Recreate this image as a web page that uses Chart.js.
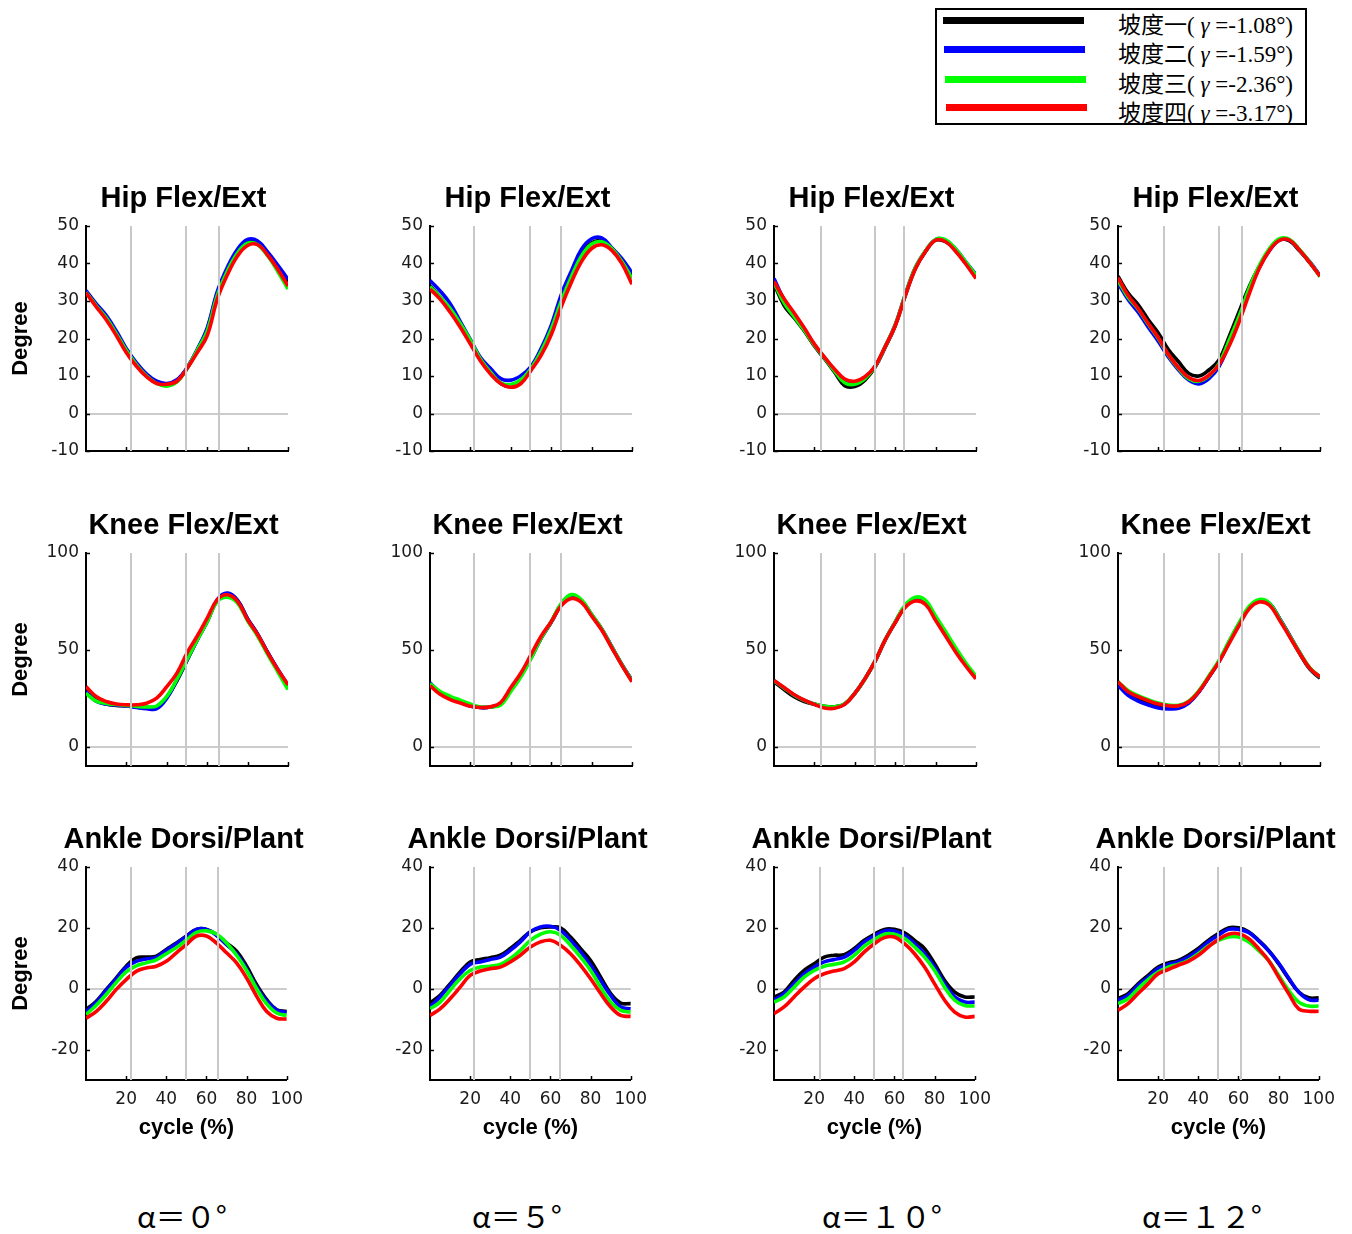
<!DOCTYPE html>
<html>
<head>
<meta charset="utf-8">
<title>Joint angles over the gait cycle</title>
<script src="https://cdn.jsdelivr.net/npm/chart.js@4.4.1/dist/chart.umd.min.js"></script>
<style>
  html, body { margin: 0; padding: 0; background: #fff; }
  body { position: relative; width: 1352px; height: 1234px; overflow: hidden; }
  canvas { position: absolute; }
  .ptitle {
    position: absolute; width: 300px; text-align: center;
    font: bold 29px "Liberation Sans", Arial, sans-serif; line-height: 29px; color: #000;
    white-space: nowrap;
  }
  .alpha {
    position: absolute; font: 30px "Noto Sans CJK JP", "Noto Sans CJK SC", sans-serif;
    line-height: 30px; color: #000; white-space: nowrap;
  }
  #legend {
    position: absolute; left: 935px; top: 8px; width: 368px; height: 113px;
    border: 2px solid #000; background: #fff; overflow: hidden;
  }
  .lg-line { position: absolute; height: 7px; }
  .lg-text {
    position: absolute; left: 181px;
    font: 23px "Liberation Serif", "Times New Roman", "Noto Sans CJK SC", serif;
    line-height: 23px; color: #000; white-space: nowrap;
  }
  .lg-text i { font-style: italic; }
</style>
</head>
<body>
<div id="legend"></div>
<script>
// ---- gait cycle samples (% of stride) ----
const cyclePct = [0, 5, 10, 15, 20, 25, 30, 35, 40, 45, 50, 55, 60, 65, 70, 75, 80, 85, 90, 95, 100];

// ---- series (slopes) ----
const slopeNames = ['坡度一', '坡度二', '坡度三', '坡度四'];
const slopeGamma = ['-1.08', '-1.59', '-2.36', '-3.17'];
const slopeColors = ['#000000', '#0000ff', '#00ff00', '#ff0000'];

// ---- panel columns (incline angle) and rows (joint) ----
const inclineLabels = ['α＝０°', 'α＝５°', 'α＝１０°', 'α＝１２°'];
const jointTitles = ['Hip Flex/Ext', 'Knee Flex/Ext', 'Ankle Dorsi/Plant'];

// gait-event markers (% of stride) for each incline column
const phaseLinesPct = [
  [22.2, 49.7, 65.9],
  [22.0, 49.7, 64.8],
  [23.1, 49.9, 64.2],
  [22.9, 49.8, 61.5]
];
const xTickValues = [20, 40, 60, 80, 100];

// ---- hip flexion/extension (deg): [坡度一, 坡度二, 坡度三, 坡度四] ----
const hipAlpha0 = [
  [32.5, 29.0, 25.8, 21.5, 17.0, 13.2, 10.3, 8.3, 7.6, 8.6, 12.0, 16.8, 22.5, 32.0, 38.5, 43.2, 46.0, 45.6, 42.6, 39.0, 35.2],
  [32.8, 29.3, 26.2, 22.0, 17.3, 13.5, 10.5, 8.6, 8.0, 9.0, 12.2, 17.0, 22.8, 32.5, 39.0, 43.8, 46.4, 46.0, 43.0, 39.5, 35.8],
  [32.3, 28.8, 25.5, 21.3, 16.8, 13.0, 10.0, 8.0, 7.3, 8.4, 12.0, 16.8, 22.0, 31.5, 38.0, 42.8, 45.4, 45.0, 42.0, 37.8, 33.2],
  [32.2, 28.5, 25.0, 20.8, 16.2, 12.6, 9.8, 8.0, 7.8, 8.6, 12.0, 16.2, 20.8, 30.5, 37.0, 42.0, 44.8, 45.0, 42.2, 38.4, 34.0]
];
const hipAlpha5 = [
  [34.0, 31.0, 27.5, 23.5, 19.0, 14.5, 11.0, 8.0, 7.2, 8.5, 12.0, 16.5, 22.5, 30.5, 37.0, 42.5, 45.5, 46.0, 44.0, 41.0, 36.5],
  [35.5, 32.7, 29.3, 24.5, 19.7, 14.9, 12.0, 9.3, 8.9, 10.1, 12.5, 17.3, 23.5, 31.7, 38.0, 43.8, 46.6, 46.8, 44.2, 41.3, 37.5],
  [33.8, 31.0, 28.0, 24.0, 19.5, 14.5, 11.0, 8.2, 7.7, 9.0, 12.0, 16.5, 22.5, 30.0, 36.5, 42.0, 45.2, 45.8, 44.0, 40.5, 36.0],
  [33.2, 30.5, 27.0, 23.0, 18.5, 14.0, 10.5, 8.0, 7.0, 8.0, 11.5, 15.5, 21.0, 28.5, 35.0, 40.5, 44.0, 45.0, 43.5, 40.0, 34.5]
];
const hipAlpha10 = [
  [34.6, 28.8, 25.5, 22.0, 18.0, 14.6, 11.0, 7.4, 7.2, 8.9, 12.3, 17.6, 23.4, 31.5, 38.7, 43.2, 46.2, 45.8, 43.4, 40.0, 36.5],
  [36.0, 30.3, 26.4, 22.6, 18.3, 14.9, 11.5, 8.9, 8.4, 9.6, 12.5, 17.8, 23.6, 31.7, 38.9, 43.3, 46.4, 46.2, 43.8, 40.4, 37.0],
  [35.0, 29.5, 25.8, 22.2, 18.2, 14.8, 11.3, 8.2, 7.8, 9.3, 12.5, 17.8, 23.6, 31.7, 38.9, 43.4, 46.4, 46.3, 43.8, 40.4, 36.8],
  [35.2, 30.6, 26.8, 22.8, 18.5, 15.0, 11.8, 9.2, 8.6, 9.8, 12.6, 17.8, 23.4, 31.4, 38.6, 43.2, 46.2, 45.8, 43.2, 39.8, 36.0]
];
const hipAlpha12 = [
  [36.6, 32.1, 29.0, 25.0, 21.4, 17.0, 13.8, 10.7, 10.0, 11.6, 14.3, 20.5, 27.2, 33.9, 39.3, 43.8, 46.4, 46.0, 43.3, 40.2, 36.6],
  [34.8, 30.4, 27.0, 23.0, 19.2, 15.0, 11.6, 8.9, 7.9, 9.3, 12.5, 18.5, 25.0, 32.5, 39.0, 43.5, 46.2, 46.2, 43.5, 40.4, 36.8],
  [35.5, 31.0, 27.8, 23.8, 20.0, 15.5, 12.0, 9.3, 8.6, 10.0, 13.3, 19.5, 26.0, 33.5, 39.5, 44.0, 46.6, 46.4, 43.6, 40.3, 36.5],
  [36.2, 31.5, 28.0, 24.0, 20.2, 15.7, 12.2, 9.6, 8.8, 10.2, 13.0, 18.0, 24.5, 32.0, 38.8, 43.5, 46.2, 46.2, 43.5, 40.2, 36.6]
];

// ---- knee flexion/extension (deg) ----
const kneeAlpha0 = [
  [28.4, 24.0, 22.0, 21.3, 21.0, 20.6, 20.3, 20.6, 25.5, 34.0, 44.5, 55.0, 64.7, 75.5, 79.0, 75.5, 66.0, 58.0, 48.5, 39.5, 31.5],
  [28.5, 23.5, 22.0, 21.5, 21.0, 20.2, 19.6, 19.6, 25.0, 34.5, 44.8, 55.0, 64.7, 75.9, 79.3, 75.5, 66.0, 58.0, 48.5, 39.8, 31.8],
  [27.6, 23.5, 22.3, 21.8, 21.3, 20.8, 20.5, 21.0, 26.0, 34.8, 45.0, 55.0, 64.5, 75.0, 77.2, 74.2, 65.0, 57.0, 47.5, 38.5, 29.5],
  [31.0, 25.9, 23.3, 22.0, 21.6, 21.6, 22.4, 25.0, 31.0, 38.0, 48.3, 57.0, 66.4, 75.9, 78.4, 75.0, 65.5, 57.8, 48.3, 39.7, 31.9]
];
const kneeAlpha5 = [
  [32.0, 27.5, 24.8, 23.0, 21.0, 20.2, 20.5, 22.0, 29.4, 36.7, 45.9, 56.0, 64.2, 73.4, 78.0, 75.2, 67.9, 60.6, 51.4, 42.2, 34.0],
  [33.0, 27.8, 24.9, 23.0, 21.0, 20.2, 20.5, 22.0, 29.2, 36.5, 45.8, 56.0, 64.4, 73.6, 78.2, 75.5, 68.2, 60.8, 51.6, 42.4, 34.2],
  [32.5, 28.5, 26.0, 24.0, 22.0, 20.5, 20.5, 21.5, 28.5, 36.0, 45.5, 56.0, 64.5, 74.0, 78.5, 75.8, 68.3, 60.8, 51.5, 42.3, 34.0],
  [31.5, 27.0, 24.3, 22.5, 20.8, 20.2, 20.6, 22.8, 30.5, 38.0, 47.5, 57.0, 64.5, 72.8, 76.5, 74.5, 67.5, 60.2, 51.0, 42.0, 33.5]
];
const kneeAlpha10 = [
  [33.5, 29.5, 25.8, 23.3, 21.8, 20.8, 20.6, 22.0, 27.5, 35.0, 44.0, 55.0, 64.2, 72.8, 76.2, 74.3, 66.0, 57.8, 49.5, 42.2, 35.8],
  [34.0, 30.3, 26.6, 23.9, 22.0, 20.5, 20.2, 22.0, 27.5, 34.9, 44.0, 55.0, 64.2, 72.5, 76.1, 74.3, 66.0, 57.8, 49.5, 42.2, 35.8],
  [34.0, 30.3, 26.6, 23.9, 22.0, 20.8, 20.6, 22.2, 27.5, 34.9, 44.0, 55.0, 64.4, 73.2, 77.2, 75.5, 67.5, 59.3, 51.0, 43.2, 36.3],
  [34.2, 30.5, 26.8, 24.0, 21.8, 20.0, 19.8, 21.8, 27.5, 35.0, 44.0, 55.0, 64.0, 72.0, 75.2, 73.4, 65.2, 57.0, 48.8, 41.5, 35.0]
];
const kneeAlpha12 = [
  [32.6, 27.3, 24.5, 22.5, 21.0, 20.3, 20.5, 22.8, 28.4, 36.0, 44.0, 54.0, 63.5, 72.0, 75.5, 73.8, 66.0, 57.0, 48.0, 40.0, 35.3],
  [31.8, 26.5, 23.5, 21.5, 20.0, 19.5, 19.8, 22.5, 28.2, 36.0, 44.0, 54.0, 63.5, 72.0, 75.6, 74.0, 66.2, 57.5, 48.5, 40.4, 35.8],
  [33.5, 29.0, 26.3, 24.2, 22.5, 21.5, 21.3, 23.5, 28.8, 36.5, 44.5, 54.5, 64.0, 72.5, 76.0, 74.0, 66.0, 57.2, 48.5, 40.6, 36.0],
  [33.5, 28.4, 25.8, 23.7, 22.0, 21.1, 21.1, 23.2, 28.4, 36.0, 43.8, 53.3, 62.7, 71.3, 74.7, 73.0, 65.3, 56.7, 48.1, 40.4, 36.0]
];

// ---- ankle dorsi/plantar flexion (deg) ----
const ankleAlpha0 = [
  [-6.9, -4.2, -0.3, 3.5, 7.4, 10.1, 10.4, 10.7, 12.9, 15.0, 17.3, 19.5, 19.5, 17.8, 15.0, 12.3, 7.4, 1.3, -3.6, -6.9, -7.5],
  [-7.5, -4.5, -0.6, 3.2, 7.0, 9.0, 9.8, 10.3, 12.6, 14.8, 17.2, 19.5, 19.5, 17.5, 14.5, 11.5, 6.5, 0.5, -4.0, -7.0, -7.8],
  [-8.5, -5.5, -2.0, 2.0, 5.5, 7.5, 8.5, 9.5, 11.5, 13.5, 16.0, 18.5, 19.0, 18.0, 15.0, 11.0, 6.0, 0.0, -5.0, -8.0, -8.8],
  [-9.7, -7.5, -4.2, -0.3, 3.0, 5.7, 6.8, 7.4, 9.0, 11.8, 14.5, 17.3, 17.3, 15.0, 11.8, 8.5, 3.5, -2.5, -7.5, -9.7, -10.0]
];
const ankleAlpha5 = [
  [-4.7, -2.2, 1.6, 5.5, 8.8, 9.6, 10.2, 11.0, 13.2, 15.9, 18.7, 20.0, 20.3, 20.0, 17.0, 13.2, 9.3, 3.8, -1.6, -4.7, -4.9],
  [-6.0, -2.7, 1.1, 4.9, 8.0, 8.8, 9.6, 10.4, 12.6, 15.4, 18.7, 20.3, 20.5, 19.2, 15.9, 12.1, 7.7, 2.7, -2.2, -6.0, -6.6],
  [-6.6, -4.4, -0.5, 3.3, 6.0, 7.1, 7.4, 8.0, 9.9, 12.6, 15.9, 17.9, 18.7, 17.6, 14.3, 10.4, 6.0, 0.5, -4.4, -7.1, -7.7],
  [-8.8, -6.6, -3.3, 0.5, 4.4, 5.8, 6.6, 7.1, 8.8, 11.0, 13.7, 15.4, 15.9, 14.3, 11.5, 7.7, 3.3, -1.6, -6.0, -8.8, -9.1]
];
const ankleAlpha10 = [
  [-2.7, -1.1, 2.7, 6.0, 8.2, 10.4, 11.0, 11.2, 13.2, 15.9, 17.9, 19.5, 19.5, 18.4, 15.9, 13.2, 8.2, 2.7, -1.1, -2.7, -2.7],
  [-3.8, -1.6, 1.6, 4.9, 7.1, 8.8, 9.6, 10.4, 12.6, 15.4, 17.3, 19.0, 19.0, 17.6, 14.8, 11.5, 7.1, 1.6, -2.7, -4.4, -4.4],
  [-4.4, -2.7, 0.5, 3.8, 6.0, 7.4, 8.0, 8.8, 11.0, 14.0, 16.2, 17.9, 17.9, 16.5, 13.7, 10.4, 6.0, 0.5, -3.8, -5.5, -5.7],
  [-8.2, -6.0, -2.7, 0.5, 3.3, 4.9, 5.8, 6.6, 8.8, 12.1, 14.8, 16.8, 17.0, 14.8, 11.5, 7.1, 1.6, -3.8, -7.7, -9.3, -9.1]
];
const ankleAlpha12 = [
  [-3.3, -1.6, 1.6, 4.4, 7.1, 8.5, 9.3, 11.0, 13.2, 15.9, 18.1, 20.0, 20.0, 18.7, 15.9, 12.6, 8.2, 3.3, -1.1, -3.0, -3.0],
  [-3.8, -2.2, 1.1, 3.8, 6.6, 8.0, 8.8, 10.4, 12.6, 15.4, 17.6, 19.5, 19.5, 18.5, 15.8, 12.5, 8.4, 3.5, -1.1, -3.6, -3.8],
  [-4.9, -3.3, 0.0, 3.0, 5.5, 7.1, 8.0, 9.3, 11.5, 14.0, 15.9, 17.0, 17.0, 15.4, 12.6, 9.3, 4.4, -0.5, -4.4, -5.7, -5.7],
  [-7.1, -4.9, -1.6, 1.6, 4.9, 6.3, 7.7, 9.0, 11.0, 13.7, 16.2, 17.9, 18.1, 16.5, 13.2, 9.3, 3.8, -1.6, -6.6, -7.4, -7.4]
];

const panelData = [
  [hipAlpha0, hipAlpha5, hipAlpha10, hipAlpha12],
  [kneeAlpha0, kneeAlpha5, kneeAlpha10, kneeAlpha12],
  [ankleAlpha0, ankleAlpha5, ankleAlpha10, ankleAlpha12]
];

// ---- layout ----
const plotLeft = [86, 430, 774, 1118];
const plotTop = [226, 553, 867];
const plotBottom = [451, 766, 1080];
const PLOT_W = 202;
const Y_W = 80, PAD_T = 20, PAD_R = 24, X_H = 61;

// y-axis setup per joint row
const yAxisSetup = [
  { min: -10, max: 50, step: 10 },
  { min: -10, max: 100, step: 50 },
  { min: -30, max: 40, step: 20 }
];

const TICK_FONT = { family: '"DejaVu Sans", Verdana, sans-serif', size: 17 };
const TICK_COLOR = '#1a1a1a';

// gray event lines plus short inward tick marks on both axes
const panelDecor = {
  id: 'panelDecor',
  afterDatasetsDraw(chart, args, opts) {
    const { ctx, chartArea, scales: { x, y } } = chart;
    ctx.save();
    ctx.strokeStyle = '#c8c8c8';
    ctx.lineWidth = 2;
    for (const p of opts.phases) {
      const px = Math.round(x.getPixelForValue(p));
      ctx.beginPath();
      ctx.moveTo(px, chartArea.top);
      ctx.lineTo(px, chartArea.bottom);
      ctx.stroke();
    }
    ctx.strokeStyle = '#000';
    ctx.lineWidth = 1.5;
    for (const t of xTickValues) {
      const px = Math.round(x.getPixelForValue(t)) + 0.5;
      ctx.beginPath();
      ctx.moveTo(px, chartArea.bottom);
      ctx.lineTo(px, chartArea.bottom - 4);
      ctx.stroke();
    }
    for (const t of y.ticks) {
      const py = Math.round(y.getPixelForValue(t.value)) + 0.5;
      ctx.beginPath();
      ctx.moveTo(chartArea.left, py);
      ctx.lineTo(chartArea.left + 4, py);
      ctx.stroke();
    }
    ctx.restore();
  }
};

function addText(cls, text, left, top) {
  const d = document.createElement('div');
  d.className = cls;
  d.textContent = text;
  d.style.left = left + 'px';
  d.style.top = top + 'px';
  document.body.appendChild(d);
  return d;
}

for (let r = 0; r < 3; r++) {
  for (let c = 0; c < 4; c++) {
    const cv = document.createElement('canvas');
    const w = Y_W + PLOT_W + PAD_R;
    const h = PAD_T + (plotBottom[r] - plotTop[r]) + X_H;
    cv.width = w; cv.height = h;
    cv.style.width = w + 'px'; cv.style.height = h + 'px';
    cv.style.left = (plotLeft[c] - Y_W) + 'px';
    cv.style.top = (plotTop[r] - PAD_T) + 'px';
    document.body.appendChild(cv);

    addText('ptitle', jointTitles[r], plotLeft[c] - 52.5, plotTop[r] - 43);

    const ys = yAxisSetup[r];
    const series = panelData[r][c];
    new Chart(cv, {
      type: 'line',
      data: {
        datasets: series.map((vals, i) => ({
          label: slopeNames[i],
          data: vals.map((v, k) => ({ x: cyclePct[k], y: v })),
          borderColor: slopeColors[i],
          backgroundColor: slopeColors[i],
          borderWidth: 3.6,
          pointRadius: 0,
          tension: 0.4,
          fill: false,
          order: 4 - i
        }))
      },
      options: {
        responsive: false,
        animation: false,
        devicePixelRatio: 1,
        layout: { padding: { top: PAD_T, right: PAD_R, bottom: 0, left: 0 } },
        plugins: {
          legend: { display: false },
          tooltip: { enabled: false },
          title: { display: false },
          panelDecor: { phases: phaseLinesPct[c] }
        },
        scales: {
          x: {
            type: 'linear',
            min: 0, max: 100,
            afterFit: (s) => { s.height = X_H; },
            grid: { display: false, drawTicks: false },
            border: { display: true, color: '#000', width: 2 },
            ticks: {
              display: r === 2,
              stepSize: 20,
              autoSkip: false,
              maxRotation: 0,
              padding: 9,
              color: TICK_COLOR,
              font: TICK_FONT,
              callback: (v) => (v === 0 ? '' : v)
            },
            title: {
              display: r === 2,
              text: 'cycle (%)',
              color: '#000',
              padding: 0,
              font: { family: '"Liberation Sans", Arial, sans-serif', size: 22, weight: 'bold' }
            }
          },
          y: {
            type: 'linear',
            min: ys.min, max: ys.max,
            afterFit: (s) => { s.width = Y_W; },
            grid: {
              drawTicks: false,
              lineWidth: 2,
              color: (ctx) => (ctx.tick && ctx.tick.value === 0 ? '#cccccc' : 'rgba(0,0,0,0)')
            },
            border: { display: true, color: '#000', width: 2 },
            ticks: {
              stepSize: ys.step,
              includeBounds: false,
              padding: 7,
              color: TICK_COLOR,
              font: TICK_FONT
            },
            title: {
              display: c === 0,
              text: 'Degree',
              color: '#000',
              padding: { top: 2, bottom: 0 },
              font: { family: '"Liberation Sans", Arial, sans-serif', size: 22, weight: 'bold' }
            }
          }
        }
      },
      plugins: [panelDecor]
    });
  }
}

// incline labels under each column
const alphaLeft = [137, 472, 822, 1142];
inclineLabels.forEach((t, c) => addText('alpha', t, alphaLeft[c], 1200));

// slope legend
const legend = document.getElementById('legend');
const lgLineX = [6, 7, 8, 9];
const lgLineW = [141, 141, 141, 141];
const lgLineY = [7, 36, 66, 94];
const lgTextY = [4, 33, 63, 92];
slopeNames.forEach((name, i) => {
  const ln = document.createElement('div');
  ln.className = 'lg-line';
  ln.style.left = lgLineX[i] + 'px';
  ln.style.top = lgLineY[i] + 'px';
  ln.style.width = lgLineW[i] + 'px';
  ln.style.background = slopeColors[i];
  legend.appendChild(ln);
  const tx = document.createElement('div');
  tx.className = 'lg-text';
  tx.style.top = lgTextY[i] + 'px';
  tx.innerHTML = name + '( <i>γ</i> =' + slopeGamma[i] + '°)';
  legend.appendChild(tx);
});
</script>
</body>
</html>
